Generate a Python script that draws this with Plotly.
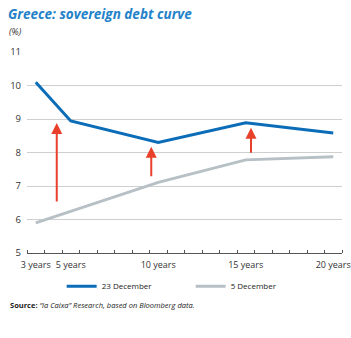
import plotly.graph_objects as go

maturities = [3, 5, 10, 15, 20]
tick_labels = ["3 years", "5 years", "10 years", "15 years", "20 years"]
dec23 = [10.10, 8.94, 8.30, 8.89, 8.58]
dec5 = [5.90, 6.25, 7.11, 7.78, 7.87]
arrow_x = [4.2, 9.6, 15.3]
arrow_from = [6.49, 7.25, 7.95]
arrow_to = [8.88, 8.17, 8.74]
minor_ticks = [i + 0.5 for i in range(2, 21)]

BLUE = "#0b6db7"
GREY = "#b6c0c5"
RED = "#e8402a"
FONT = "Open Sans"

fig = go.Figure()
fig.add_trace(go.Scatter(x=maturities, y=dec23, mode="lines", name="23 December",
                         line=dict(color=BLUE, width=3)))
fig.add_trace(go.Scatter(x=maturities, y=dec5, mode="lines", name="5 December",
                         line=dict(color=GREY, width=3)))

for ax_, y0, y1 in zip(arrow_x, arrow_from, arrow_to):
    fig.add_annotation(x=ax_, y=y1, ax=ax_, ay=y0, xref="x", yref="y", axref="x", ayref="y",
                       showarrow=True, arrowhead=2, arrowsize=1.1, arrowwidth=2,
                       arrowcolor=RED, text="")

fig.add_annotation(text="<i>(%)</i>", xref="paper", yref="paper", x=-0.062, y=1.104,
                   xanchor="left", yanchor="middle", showarrow=False,
                   font=dict(family=FONT, size=9, color="#333333"))
fig.add_annotation(text="<b>Source:</b> <i>“la Caixa” Research, based on Bloomberg data.</i>",
                   xref="paper", yref="paper", x=-0.060, y=-0.259,
                   xanchor="left", yanchor="middle", showarrow=False,
                   font=dict(family=FONT, size=7.5, color="#222222"))

fig.update_layout(
    width=351, height=338,
    margin=dict(l=27, r=9, t=52, b=85),
    paper_bgcolor="white", plot_bgcolor="white",
    font=dict(family=FONT, size=9, color="#333333"),
    title=dict(text="<b><i>Greece: sovereign debt curve</i></b>", xref="container", yref="container",
               x=8/351, y=1-14/338, xanchor="left", yanchor="middle",
               font=dict(family=FONT, size=13.5, color="#2382c8")),
    showlegend=True,
    legend=dict(orientation="h", x=0.11, y=-0.165, xanchor="left", yanchor="middle",
                entrywidth=84, entrywidthmode="pixels",
                font=dict(family=FONT, size=8, color="#222222"), bgcolor="rgba(0,0,0,0)"),
    xaxis=dict(range=[2.5, 20.5], tickvals=maturities, ticktext=tick_labels, ticks="",
               showgrid=False, zeroline=False, showline=True, linecolor="#555555", linewidth=1,
               tickfont=dict(size=9, color="#333333"), automargin=False, ticklabelstandoff=3,
               minor=dict(tickvals=minor_ticks, ticks="inside", ticklen=3, tickcolor="#555555",
                          showgrid=False)),
    yaxis=dict(range=[5, 11], dtick=1, showgrid=True, gridcolor="#cfcfcf", gridwidth=1,
               zeroline=False, showline=False, ticks="", ticklabelstandoff=5,
               tickfont=dict(size=9.5, color="#333333"), automargin=False),
)

fig.write_html("out.html")
